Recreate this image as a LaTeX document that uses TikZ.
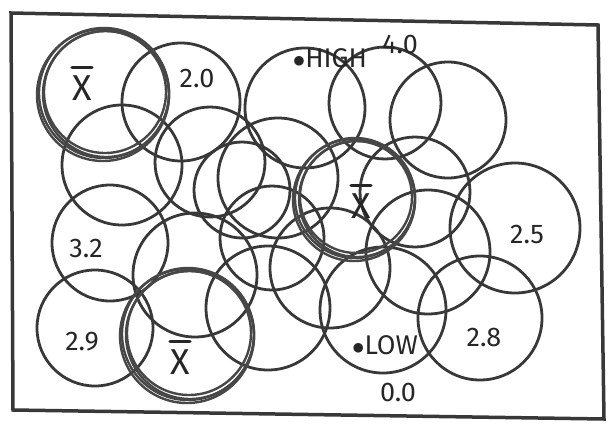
\documentclass[tikz,border=0pt]{standalone}
\usepackage{fontspec}
\setmainfont{Fira Sans}
\usepackage{tikz}
\usetikzlibrary{positioning}

\begin{document}
\begin{tikzpicture}[
  x=1pt, y=-1pt,
  ink/.style={draw=black!78, line width=2.8pt},
  bold/.style={draw=black!72, line width=2.4pt},
  lbl/.style={text=black!85, font=\fontsize{27}{29}\selectfont, inner sep=0pt},
  xbar/.style={text=black!85, font=\fontsize{36}{38}\selectfont, inner sep=0pt},
  bar/.style={draw=black!85, line width=3.5pt, line cap=round},
]
\useasboundingbox (0,0) rectangle (615,423);

%% --- Marco ---
\coordinate (tl) at (11,13);
\coordinate (tr) at (598,25);
\coordinate (br) at (604,419);
\coordinate (bl) at (13,410);
\draw[ink, line width=3.5pt] (tl) -- (tr) -- (br) -- (bl) -- cycle;

%% --- Circulos finos ---
\foreach \cx/\cy/\r in {181/102/59, 122/165/60, 210/162/55, 242/190/48,
                        305/108/60, 385/103/56, 448/120/58, 278/178/60,
                        415/192/55, 110/243/58, 195/275/62, 272/238/52,
                        330/268/60, 428/252/62, 515/228/65, 95/328/58,
                        268/308/62, 383/310/63, 480/318/62}
  \draw[ink] (\cx,\cy) circle (\r);

%% --- Circulos de media (marcados) ---
\foreach \cx/\cy/\r in {104/93/65, 355/198/60, 188/334/66}{
  \draw[bold] (\cx,\cy) circle (\r);
  \draw[bold] (\cx+2,\cy+1) circle (\r-2);
  \draw[bold] (\cx-1,\cy+2) circle (\r+1);
  \draw[bold] (\cx+1,\cy-1) circle (\r-4);
}

%% --- Medias ---
\node[xbar] (mean1) at (82,88)  {X};
\node[xbar] (mean2) at (361,206) {X};
\node[xbar] (mean3) at (180,362) {X};
\foreach \m in {mean1, mean2, mean3}
  \draw[bar] ([yshift=8pt]\m.north west) -- ([yshift=8pt]\m.north east);

%% --- Valores ---
\node[lbl] (v20)  at (197,78)  {2.0};
\node[lbl] (high) at (330,58)  {$\bullet$HIGH};
\node[lbl] (v40)  at (400,44)  {4.0};
\node[lbl] (v32)  at (86,248)  {3.2};
\node[lbl] (v29)  at (82,342)  {2.9};
\node[lbl] (v25)  at (527,234) {2.5};
\node[lbl] (v28)  at (484,337) {2.8};
\node[lbl] (low)  at (385,345) {$\bullet$LOW};
\node[lbl] (v00)  at (398,392) {0.0};

\end{tikzpicture}
\end{document}
